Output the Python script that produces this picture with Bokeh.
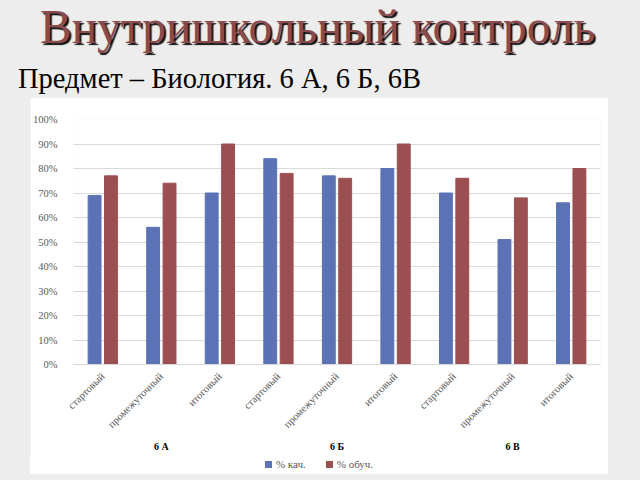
from math import pi

from bokeh.embed import file_html
from bokeh.resources import INLINE
from bokeh.plotting import figure
from bokeh.layouts import column
from bokeh.models import (ColumnDataSource, FactorRange, Range1d, FixedTicker,
                          NumeralTickFormatter, Div)
from bokeh.transform import dodge

# данные
klassy = ["6 А", "6 Б", "6 В"]
etapy = ["стартовый", "промежуточный", "итоговый"]
kach = [0.69, 0.56, 0.70, 0.84, 0.77, 0.80, 0.70, 0.51, 0.66]
obuch = [0.77, 0.74, 0.90, 0.78, 0.76, 0.90, 0.76, 0.68, 0.80]
y_ticks = [0, 0.1, 0.2, 0.3, 0.4, 0.5, 0.6, 0.7, 0.8, 0.9, 1.0]
serii = ["% кач.", "% обуч."]
cveta = ["#5b72b5", "#9b4f51"]

zagolovok = "Внутришкольный контроль"
podzagolovok = "Предмет – Биология. 6 А, 6 Б, 6В"

SERIF = "Liberation Serif"
FON = "#ededed"

# шапка слайда
shapka = Div(text=(
    '<div style="position:relative;width:640px;height:97px;">'
    '<div style="position:absolute;left:40px;top:4px;white-space:nowrap;'
    "font-family:'Liberation Serif';font-size:47.5px;line-height:1;color:#8b4a4c;"
    'text-shadow:2px 2px 1px #111;">' + zagolovok + '</div>'
    '<div style="position:absolute;left:18px;top:65px;white-space:nowrap;'
    "font-family:'Liberation Serif';font-size:28.5px;line-height:1;color:#000;"
    '">' + podzagolovok + '</div></div>'),
    width=640, height=97, margin=0)

# диаграмма
x = [(k, e) for k in klassy for e in etapy]
source = ColumnDataSource(data=dict(x=x, kach=kach, obuch=obuch))

p = figure(x_range=FactorRange(*x, group_padding=0, range_padding=0),
           y_range=Range1d(0, 1),
           width=578, height=359, output_backend="svg", toolbar_location=None,
           min_border_left=34, min_border_right=8, min_border_top=22, min_border_bottom=92,
           margin=(0, 32, 0, 30))

p.border_fill_color = "white"
p.background_fill_color = "white"
p.outline_line_color = None

p.vbar(x=dodge("x", -0.14, range=p.x_range), top="kach", width=0.22,
       source=source, color=cveta[0])
p.vbar(x=dodge("x", 0.14, range=p.x_range), top="obuch", width=0.22,
       source=source, color=cveta[1])

p.xgrid.grid_line_color = None
p.ygrid.grid_line_color = "#d9d9d9"
p.ygrid.ticker = FixedTicker(ticks=y_ticks)

p.yaxis.ticker = FixedTicker(ticks=y_ticks)
p.yaxis.formatter = NumeralTickFormatter(format="0%")
p.yaxis.axis_line_color = None
p.yaxis.major_tick_line_color = None
p.yaxis.minor_tick_line_color = None
p.yaxis.major_label_standoff = 10
p.yaxis.major_label_text_font = SERIF
p.yaxis.major_label_text_font_size = "10.5px"
p.yaxis.major_label_text_color = "#595959"

p.xaxis.axis_line_color = "#d9d9d9"
p.xaxis.major_tick_line_color = None
p.xaxis.separator_line_color = None
p.xaxis.major_label_orientation = pi / 4
p.xaxis.major_label_standoff = 4
p.xaxis.major_label_text_font = SERIF
p.xaxis.major_label_text_font_size = "10.5px"
p.xaxis.major_label_text_color = "#595959"
p.xaxis.group_text_font = SERIF
p.xaxis.group_text_font_size = "10px"
p.xaxis.group_text_font_style = "bold"
p.xaxis.group_text_color = "black"

# легенда под диаграммой
punkty = "".join(
    '<span style="display:inline-block;margin:0 10px;">'
    '<span style="display:inline-block;width:7px;height:7px;background:' + c + ';'
    'margin-right:4px;vertical-align:0px;"></span>' + s + '</span>'
    for s, c in zip(serii, cveta))
legenda = Div(text=(
    '<div style="width:578px;height:16px;background:white;text-align:center;'
    "font-family:'Liberation Serif';font-size:11px;line-height:12px;color:#595959;\">"
    + punkty + '</div>'),
    width=578, height=16, margin=(0, 32, 8, 30),
    styles={"background-color": "white"})

stranica = column(shapka, p, legenda, styles={"background-color": FON})

open("out.html", "w").write(file_html(stranica, INLINE))
